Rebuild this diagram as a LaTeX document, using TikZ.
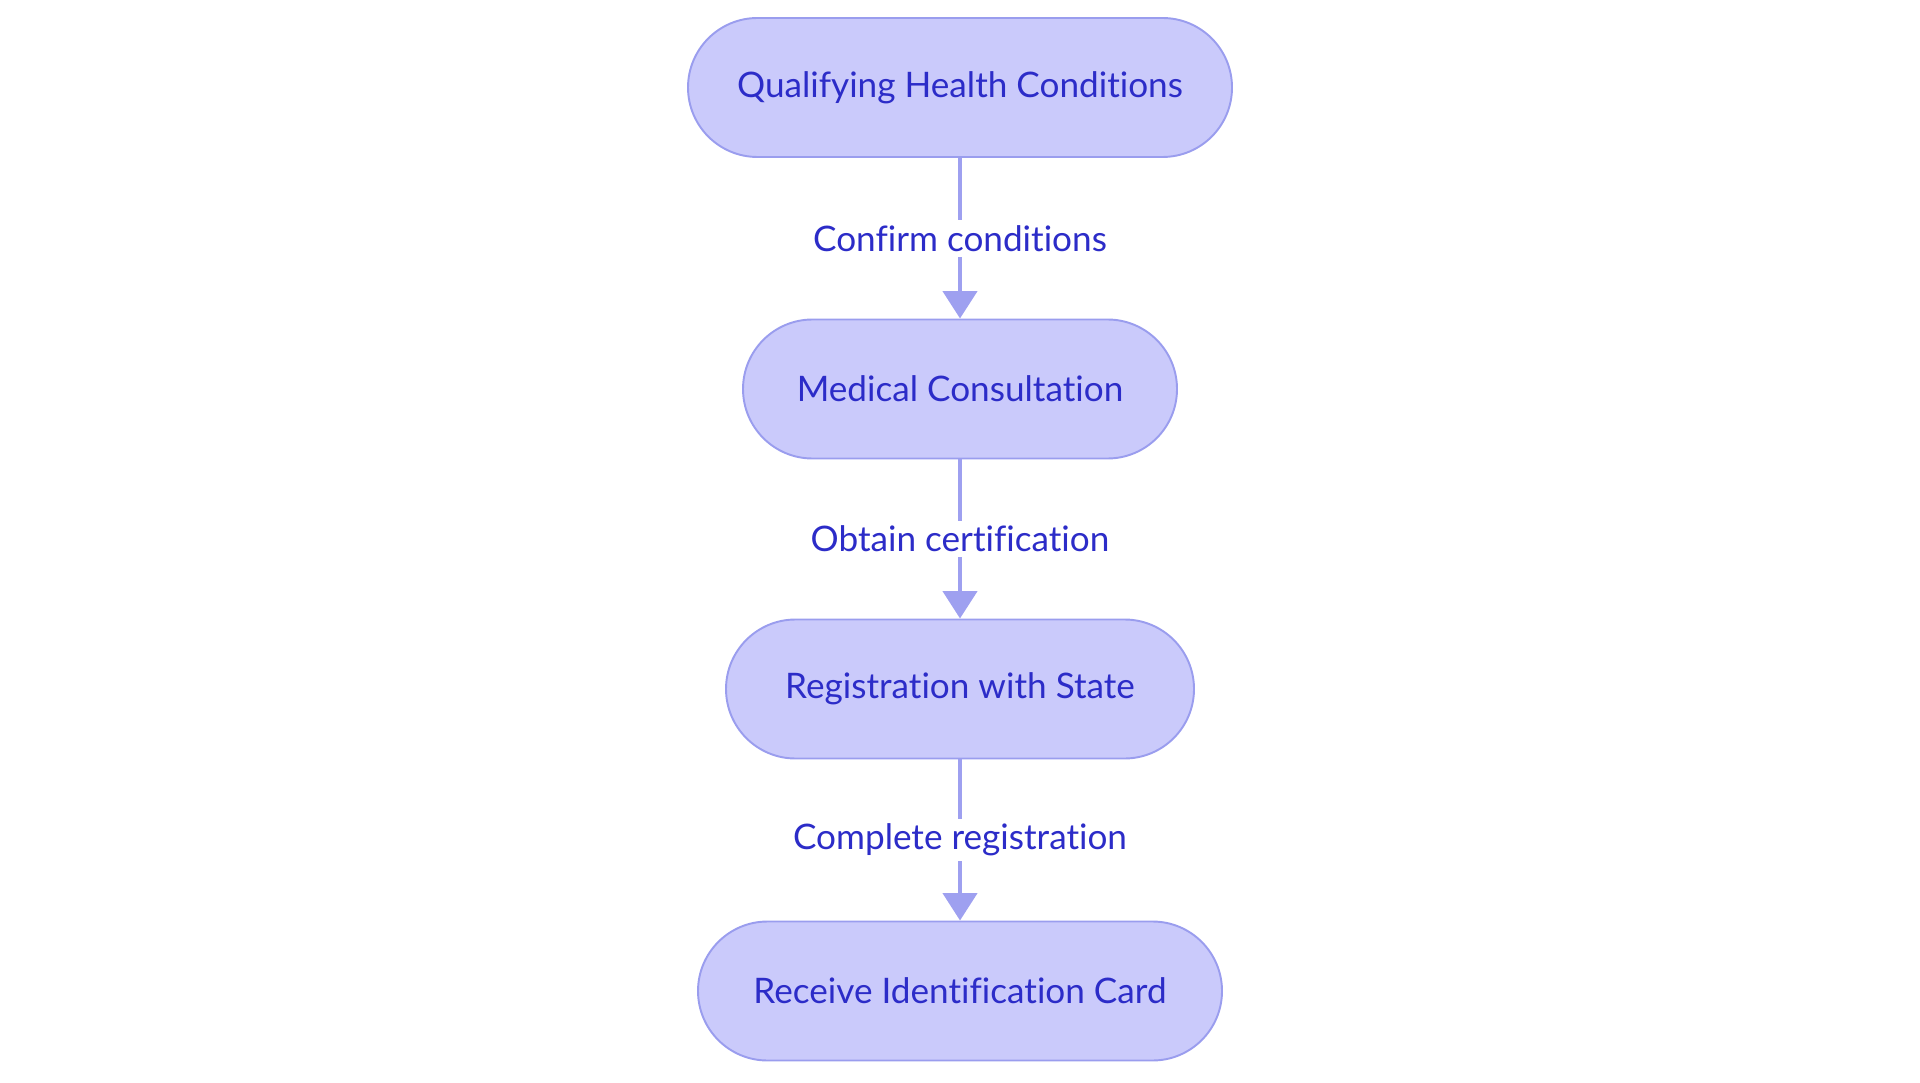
\documentclass[tikz,border=0pt]{standalone}
\usepackage{fontspec}
\setmainfont{Lato}[Ligatures=NoCommon]
\usetikzlibrary{arrows.meta}

\definecolor{boxfill}{HTML}{CACAFB}
\definecolor{boxline}{HTML}{9A9DEE}
\definecolor{boxtext}{HTML}{2C2CC8}
\definecolor{flowline}{HTML}{9EA0F0}

\begin{document}
\begin{tikzpicture}[>={Triangle[length=0.55cm,width=0.68cm]},
    stage/.style={draw=boxline,line width=1.1pt,fill=boxfill,text=boxtext,
        rounded corners=1.39cm,minimum height=2.78cm,
        font=\fontsize{20}{24}\selectfont},
    flow/.style={->,draw=flowline,line width=2.6pt},
    tag/.style={fill=white,text=boxtext,inner sep=3pt,
        font=\fontsize{20}{24}\selectfont}]
                \useasboundingbox (0,0) rectangle (38.4,-21.66);

                \node[stage,minimum width=10.88cm] (qualify) at (19.2,-1.75) {Qualifying Health Conditions};
                \node[stage,minimum width=8.68cm] (consult) at (19.2,-7.78) {Medical Consultation};
                \node[stage,minimum width=9.36cm] (register) at (19.2,-13.78) {Registration with State};
                \node[stage,minimum width=10.48cm] (card) at (19.2,-19.82) {Receive Identification Card};

                \draw[flow] (qualify) -- (consult) node[midway,tag]{Confirm conditions};
                \draw[flow] (consult) -- (register) node[midway,tag]{Obtain certification};
                \draw[flow] (register) -- (card) node[midway,tag]{Complete registration};
            \end{tikzpicture}
\end{document}
